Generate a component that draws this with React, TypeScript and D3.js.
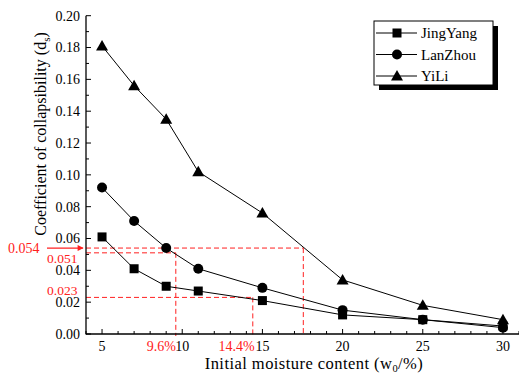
import React from "react";
import * as d3 from "d3";

const moisture = [5, 7, 9, 11, 15, 20, 25, 30];
const jingYang = [0.061, 0.041, 0.030, 0.027, 0.021, 0.012, 0.009, 0.005];
const lanZhou = [0.092, 0.071, 0.054, 0.041, 0.029, 0.015, 0.009, 0.004];
const yiLi = [0.181, 0.156, 0.135, 0.102, 0.076, 0.034, 0.018, 0.009];
const seriesNames = ["JingYang", "LanZhou", "YiLi"];
const xTicks = [5, 10, 15, 20, 25, 30];
const yTicks = [0, 0.02, 0.04, 0.06, 0.08, 0.1, 0.12, 0.14, 0.16, 0.18, 0.2];
// reference lines: [y value, x value]
const refLines: [number, number][] = [
  [0.054, 17.55],
  [0.051, 9.6],
  [0.023, 14.4],
];
const refYLabels = ["0.054", "0.051", "0.023"];
const refXLabels = ["9.6%", "14.4%"];

const W = 519;
const H = 374;
const FONT = "Liberation Serif, DejaVu Serif, serif";

export default function App() {
  const x = d3.scaleLinear().domain([4, 31]).range([86, 519]);
  const y = d3.scaleLinear().domain([0, 0.2]).range([334, 15.7]);
  const line = d3
    .line<[number, number]>()
    .x((d) => x(d[0]))
    .y((d) => y(d[1]));
  const data = [jingYang, lanZhou, yiLi];
  const minorX = d3.range(4, 32, 1).filter((v) => !xTicks.includes(v));
  const minorY = d3.range(0.01, 0.2, 0.02);

  const marker = (kind: number, cx: number, cy: number, key: string) => {
    if (kind === 0)
      return <rect key={key} x={cx - 4.5} y={cy - 4.5} width={9} height={9} fill="#000" />;
    if (kind === 1) return <circle key={key} cx={cx} cy={cy} r={5} fill="#000" />;
    const s = 6;
    return (
      <path
        key={key}
        d={`M${cx},${cy - s}L${cx + s},${cy + s * 0.75}L${cx - s},${cy + s * 0.75}Z`}
        fill="#000"
      />
    );
  };

  const red = "#ff2020";
  return (
    <svg
      width={W}
      height={H}
      style={{ position: "absolute", left: 0, top: 0, background: "#fff", fontFamily: FONT }}
    >
      <defs>
        <marker id="arr" viewBox="0 0 10 10" refX="9" refY="5" markerWidth="7" markerHeight="6" orient="auto" markerUnits="userSpaceOnUse">
          <path d="M0,0L10,5L0,10Z" fill={red} />
        </marker>
      </defs>
      {/* reference dashed lines */}
      {refLines.map(([yv, xv], i) => (
        <g key={"ref" + i} stroke={red} strokeWidth={1} strokeDasharray="5,3" fill="none">
          <line x1={x(4)} x2={x(xv)} y1={y(yv)} y2={y(yv)} />
          <line x1={x(xv)} x2={x(xv)} y1={y(yv)} y2={y(0) + 2} />
        </g>
      ))}
      {/* axes */}
      <line x1={x(4)} x2={x(4)} y1={y(0.2)} y2={y(0) + 0.5} stroke="#000" strokeWidth={1.3} />
      <line x1={x(4)} x2={x(31)} y1={y(0)} y2={y(0)} stroke="#000" strokeWidth={1.3} />
      {yTicks.map((t) => (
        <g key={"yt" + t}>
          <line x1={x(4)} x2={x(4) + 5} y1={y(t)} y2={y(t)} stroke="#000" />
          <text x={x(4) - 6} y={y(t)} dy="0.35em" textAnchor="end" fontSize={14} fill="#000">
            {t.toFixed(2)}
          </text>
        </g>
      ))}
      {minorY.map((t) => (
        <line key={"ym" + t} x1={x(4)} x2={x(4) + 3} y1={y(t)} y2={y(t)} stroke="#000" />
      ))}
      {xTicks.map((t) => (
        <g key={"xt" + t}>
          <line x1={x(t)} x2={x(t)} y1={y(0)} y2={y(0) - 5} stroke="#000" />
          <text x={x(t)} y={y(0) + 17} textAnchor="middle" fontSize={14} fill="#000">
            {t}
          </text>
        </g>
      ))}
      {minorX.map((t) => (
        <line key={"xm" + t} x1={x(t)} x2={x(t)} y1={y(0)} y2={y(0) - 3} stroke="#000" />
      ))}
      {/* axis titles */}
      <text
        transform={`translate(46,134) rotate(-90)`}
        textAnchor="middle"
        fontSize={16}
        fill="#000"
      >
        Coefficient of collapsibility (d<tspan fontSize={11} dy={4}>s</tspan>
        <tspan dy={-4}>)</tspan>
      </text>
      <text x={314} y={369} textAnchor="middle" fontSize={16.5} letterSpacing={0.45} fill="#000">
        Initial moisture content (w<tspan fontSize={10.5} dy={2.5}>0</tspan>
        <tspan dy={-2.5}>/%)</tspan>
      </text>
      {/* series */}
      {data.map((vals, si) => {
        const pts = moisture.map((m, i) => [m, vals[i]] as [number, number]);
        return (
          <g key={"s" + si}>
            <path d={line(pts) || ""} fill="none" stroke="#000" strokeWidth={1} />
            {pts.map((p, i) => marker(si, x(p[0]), y(p[1]), `m${si}-${i}`))}
          </g>
        );
      })}
      {/* red labels */}
      <text x={8} y={y(0.054)} dy="0.35em" fontSize={14} fill={red}>{refYLabels[0]}</text>
      <line x1={47} x2={83} y1={y(0.054)} y2={y(0.054)} stroke={red} strokeWidth={1.2} markerEnd="url(#arr)" />
      <text x={47} y={y(0.051) + 5} dy="0.35em" fontSize={13.5} fill={red}>{refYLabels[1]}</text>
      <text x={47} y={y(0.023) - 7} dy="0.35em" fontSize={13.5} fill={red}>{refYLabels[2]}</text>
      <text x={x(9.6)} y={y(0) + 17} textAnchor="end" fontSize={14} fill={red}>{refXLabels[0]}</text>
      <text x={x(14.4) + 2} y={y(0) + 17} textAnchor="end" fontSize={14} fill={red}>{refXLabels[1]}</text>
      {/* legend */}
      <rect x={379} y={26} width={119} height={64} fill="#000" />
      <rect x={374} y={21} width={119} height={64} fill="#fff" stroke="#000" strokeWidth={1} />
      {seriesNames.map((n, i) => {
        const ly = 33 + i * 21.5;
        return (
          <g key={"lg" + i}>
            <line x1={376} x2={417} y1={ly} y2={ly} stroke="#000" />
            {marker(i, 397, ly, "lm" + i)}
            <text x={421} y={ly} dy="0.35em" fontSize={15} fill="#000">{n}</text>
          </g>
        );
      })}
    </svg>
  );
}
